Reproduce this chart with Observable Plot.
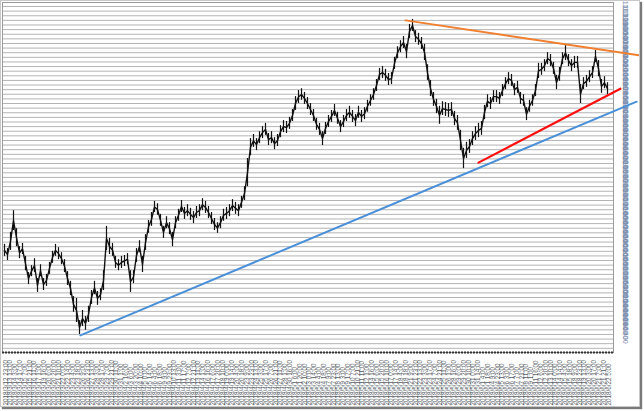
<!DOCTYPE html>
<html><head><meta charset="utf-8">
<script src="https://cdn.jsdelivr.net/npm/d3@7"></script>
<script src="https://cdn.jsdelivr.net/npm/@observablehq/plot@0.6"></script>
<style>
body{margin:0;background:#fff;}
#wrap{position:relative;width:644px;height:411px;overflow:hidden;background:#fff;}
#border{position:absolute;left:0;top:0;width:638px;height:405px;border:1px solid #c8c8c8;box-shadow:2px 2px 1px #7a7a7a;pointer-events:none;}
</style></head><body><div id="wrap"><div id="border"></div></div>
<script>
// USD/JPY bars: highs and lows
const high = [
106.55,106.46,106.81,107.28,106.89,106.50,106.57,106.29,105.94,106.09,
106.24,105.81,106.11,105.81,105.90,106.16,106.40,106.55,106.48,106.37,
106.22,105.96,105.75,105.42,105.38,104.90,105.12,104.99,105.21,105.55,
105.75,105.53,105.59,105.98,106.94,106.68,106.57,106.29,106.22,106.29,
106.31,106.35,105.98,105.98,106.46,106.63,106.29,106.76,107.07,107.24,
107.48,107.43,107.20,106.94,107.15,107.02,106.81,107.15,107.31,107.50,
107.35,107.41,107.33,107.26,107.37,107.41,107.54,107.48,107.37,107.24,
107.11,107.02,107.15,107.31,107.35,107.41,107.52,107.46,107.41,107.59,
107.80,108.41,108.84,108.93,108.84,108.99,109.10,109.17,108.95,108.99,
108.86,108.93,109.12,109.23,109.21,109.30,109.47,109.75,109.88,109.92,
109.84,109.73,109.60,109.47,109.28,109.17,108.99,109.19,109.34,109.45,
109.58,109.41,109.23,109.34,109.47,109.54,109.45,109.36,109.54,109.45,
109.51,109.67,109.79,109.92,110.12,110.36,110.40,110.34,110.25,110.27,
110.60,110.83,110.96,111.05,110.88,111.31,111.42,111.18,111.12,111.03,
110.88,110.44,110.10,109.84,109.69,109.54,109.64,109.62,109.60,109.62,
109.43,109.34,109.02,108.63,108.76,108.82,108.99,109.10,109.17,109.21,
109.56,109.79,109.73,109.88,109.88,109.84,110.01,110.16,110.27,110.23,
110.03,110.08,109.84,109.79,109.51,109.67,109.79,110.01,110.47,110.47,
110.55,110.70,110.66,110.49,110.21,110.38,110.70,110.86,110.66,110.55,
110.62,110.62,110.01,110.16,110.21,110.31,110.40,110.75,110.53,110.12,
110.18,110.05
];
const low = [
106.29,106.20,106.42,106.85,106.50,106.24,106.33,105.98,105.68,105.85,
105.94,105.51,105.85,105.55,105.64,105.90,106.14,106.29,106.22,106.11,
105.94,105.66,105.44,105.08,104.86,104.60,104.77,104.69,104.86,105.25,
105.46,105.23,105.33,105.55,106.42,106.33,106.29,106.03,105.98,106.03,
106.07,106.11,105.51,105.70,106.16,106.37,105.94,106.42,106.79,106.94,
107.24,107.18,106.94,106.68,106.89,106.76,106.50,106.89,107.05,107.24,
107.09,107.15,107.07,107.00,107.11,107.15,107.28,107.22,107.11,106.98,
106.85,106.79,106.89,107.05,107.09,107.15,107.26,107.20,107.15,107.33,
107.50,107.80,108.47,108.65,108.58,108.73,108.84,108.91,108.69,108.73,
108.60,108.67,108.86,108.97,108.95,109.04,109.21,109.45,109.60,109.67,
109.58,109.47,109.34,109.21,109.02,108.91,108.69,108.93,109.08,109.19,
109.32,109.15,108.97,109.08,109.21,109.28,109.19,109.10,109.28,109.19,
109.25,109.41,109.54,109.67,109.86,110.10,110.14,110.08,109.99,110.01,
110.34,110.57,110.70,110.79,110.57,111.01,111.16,110.92,110.86,110.77,
110.53,110.10,109.75,109.54,109.38,109.15,109.34,109.32,109.30,109.32,
109.12,109.02,108.58,108.19,108.41,108.52,108.69,108.80,108.86,108.91,
109.25,109.51,109.47,109.62,109.62,109.58,109.75,109.90,110.01,109.97,
109.77,109.82,109.58,109.54,109.23,109.41,109.54,109.75,110.14,110.21,
110.29,110.44,110.40,110.23,109.90,110.08,110.44,110.53,110.40,110.29,
110.36,110.36,109.60,109.90,109.95,110.05,110.14,110.49,110.18,109.82,
109.92,109.79
];
// trend lines: [bar index, price]
const blueLine = [[25.3, 104.58], [210.7, 109.64]];
const orangeLine = [[133.7, 111.40], [212, 110.64]];
const redLine = [[158, 108.32], [205.3, 109.92]];
// time axis labels
const timeLabels = [
"2018/3/12 23:00","2018/3/13 13:00","2018/3/14 3:00","2018/3/14 17:00","2018/3/15 7:00","2018/3/15 21:00","2018/3/16 11:00","2018/3/17 1:00","2018/3/19 16:00","2018/3/20 6:00",
"2018/3/20 20:00","2018/3/21 10:00","2018/3/22 0:00","2018/3/22 14:00","2018/3/23 4:00","2018/3/23 18:00","2018/3/26 9:00","2018/3/26 23:00","2018/3/27 13:00","2018/3/28 3:00",
"2018/3/28 17:00","2018/3/29 7:00","2018/3/29 21:00","2018/3/30 11:00","2018/3/31 1:00","2018/4/2 16:00","2018/4/3 6:00","2018/4/3 20:00","2018/4/4 10:00","2018/4/5 0:00",
"2018/4/5 14:00","2018/4/6 4:00","2018/4/6 18:00","2018/4/9 9:00","2018/4/9 23:00","2018/4/10 13:00","2018/4/11 3:00","2018/4/11 17:00","2018/4/12 7:00","2018/4/12 21:00",
"2018/4/13 11:00","2018/4/14 1:00","2018/4/16 16:00","2018/4/17 6:00","2018/4/17 20:00","2018/4/18 10:00","2018/4/19 0:00","2018/4/19 14:00","2018/4/20 4:00","2018/4/20 18:00",
"2018/4/23 9:00","2018/4/23 23:00","2018/4/24 13:00","2018/4/25 3:00","2018/4/25 17:00","2018/4/26 7:00","2018/4/26 21:00","2018/4/27 11:00","2018/4/28 1:00","2018/4/30 16:00",
"2018/5/1 6:00","2018/5/1 20:00","2018/5/2 10:00","2018/5/3 0:00","2018/5/3 14:00","2018/5/4 4:00","2018/5/4 18:00","2018/5/7 9:00","2018/5/7 23:00","2018/5/8 13:00",
"2018/5/9 3:00","2018/5/9 17:00","2018/5/10 7:00","2018/5/10 21:00","2018/5/11 11:00","2018/5/12 1:00","2018/5/14 16:00","2018/5/15 6:00","2018/5/15 20:00","2018/5/16 10:00",
"2018/5/17 0:00","2018/5/17 14:00","2018/5/18 4:00","2018/5/18 18:00","2018/5/21 9:00","2018/5/21 23:00","2018/5/22 13:00","2018/5/23 3:00","2018/5/23 17:00","2018/5/24 7:00",
"2018/5/24 21:00","2018/5/25 11:00","2018/5/26 1:00","2018/5/28 16:00","2018/5/29 6:00","2018/5/29 20:00","2018/5/30 10:00","2018/5/31 0:00","2018/5/31 14:00","2018/6/1 4:00",
"2018/6/1 18:00","2018/6/4 9:00","2018/6/4 23:00","2018/6/5 13:00","2018/6/6 3:00","2018/6/6 17:00","2018/6/7 7:00","2018/6/7 21:00","2018/6/8 11:00","2018/6/9 1:00",
"2018/6/11 16:00","2018/6/12 6:00","2018/6/12 20:00","2018/6/13 10:00","2018/6/14 0:00","2018/6/14 14:00","2018/6/15 4:00","2018/6/15 18:00","2018/6/18 9:00","2018/6/18 23:00",
"2018/6/19 13:00","2018/6/20 3:00","2018/6/20 17:00","2018/6/21 7:00","2018/6/21 21:00","2018/6/22 5:00"
];
// price grid (every 0.1) and right-axis labels
const priceTicks = d3.range(1043, 1118).map(v => v / 10);
const priceLabels = d3.range(1044, 1114).map(v => v / 10);

const bars = high.map((h, i) => ({i, high: h, low: low[i]}));
const labelStart = 1, labelEnd = 202;
const labelStep = (labelEnd - labelStart) / (timeLabels.length - 1);

const chart = Plot.plot({
  width: 644, height: 411,
  marginLeft: 2, marginRight: 31, marginTop: 2, marginBottom: 59,
  x: {type: "linear", domain: [-0.667, 203], axis: null},
  y: {type: "linear", domain: [104.209, 111.787], axis: null},
  style: {fontFamily: "'Liberation Sans', 'DejaVu Sans', sans-serif", background: "transparent"},
  marks: [
    Plot.ruleY(priceTicks, {stroke: "#b4b4b4", strokeWidth: 1}),
    Plot.frame({stroke: "#9a9a9a"}),
    Plot.text(priceLabels, {y: d => d, frameAnchor: "right", dx: 12, rotate: 90, text: d => d.toFixed(3), fontSize: 7, fill: "#8090b0"}),
    Plot.text(timeLabels, {x: (d, k) => labelStart + k * labelStep, frameAnchor: "bottom", dy: 53, rotate: -90, textAnchor: "start", fontSize: 6.3, fill: "#5a5f6a"}),
    Plot.ruleY([104.209], {stroke: "#333", strokeWidth: 2, strokeDasharray: "2,1"}),
    Plot.ruleX(bars, {x: "i", y1: "low", y2: "high", stroke: "#111", strokeWidth: 1.2}),
    Plot.line(bars, {x: "i", y: d => (d.high + d.low) / 2, stroke: "#111", strokeWidth: 1.4}),
    Plot.line(blueLine, {x: d => d[0], y: d => d[1], stroke: "#4a90d9", strokeWidth: 2}),
    Plot.line(orangeLine, {x: d => d[0], y: d => d[1], stroke: "#f08030", strokeWidth: 2}),
    Plot.line(redLine, {x: d => d[0], y: d => d[1], stroke: "#ff1010", strokeWidth: 2.2})
  ]
});
chart.style.position = "absolute";
chart.style.left = "0";
chart.style.top = "0";
document.getElementById("wrap").insertBefore(chart, document.getElementById("border"));
</script>
</body></html>
